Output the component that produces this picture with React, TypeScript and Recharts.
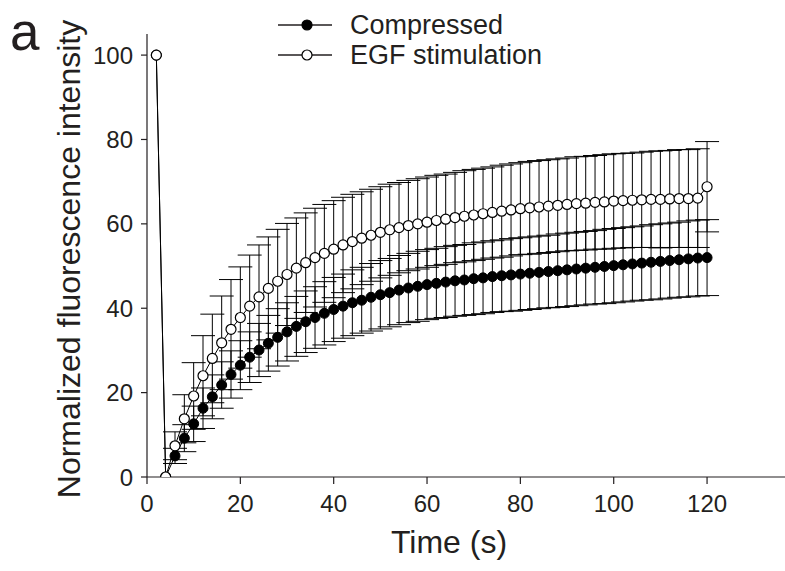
import { LineChart, Line, XAxis, YAxis, ErrorBar, Legend } from "recharts";

const times = [
  2, 4, 6, 8, 10, 12, 14, 16, 18, 20, 22, 24, 26, 28, 30, 32, 34, 36, 38, 40,
  42, 44, 46, 48, 50, 52, 54, 56, 58, 60, 62, 64, 66, 68, 70, 72, 74, 76, 78, 80,
  82, 84, 86, 88, 90, 92, 94, 96, 98, 100, 102, 104, 106, 108, 110, 112, 114, 116, 118, 120,
];

const compressed = [
  100, 0, 5.0, 9.2, 12.6, 16.3, 19.0, 21.8, 24.3, 26.5, 28.4, 30.1, 31.7, 33.1, 34.4, 35.7, 36.8, 37.8, 38.8, 39.7,
  40.5, 41.3, 41.9, 42.6, 43.2, 43.7, 44.3, 44.8, 45.2, 45.6, 45.9, 46.2, 46.5, 46.7, 47.0, 47.2, 47.5, 47.7, 47.9, 48.1,
  48.3, 48.5, 48.7, 48.9, 49.1, 49.3, 49.5, 49.7, 49.9, 50.1, 50.3, 50.5, 50.7, 50.9, 51.1, 51.3, 51.5, 51.7, 51.9, 52.0,
];

const compressedSd = [
  0, 0, 1.8, 3.2, 4.2, 4.8, 5.2, 5.5, 5.6, 5.8, 6.0, 6.3, 6.6, 6.8, 6.9, 7.1, 7.3, 7.3, 7.5, 7.6,
  7.6, 7.8, 7.8, 8.0, 8.1, 8.1, 8.2, 8.2, 8.3, 8.3, 8.3, 8.4, 8.4, 8.4, 8.5, 8.5, 8.5, 8.5, 8.6, 8.6,
  8.6, 8.6, 8.6, 8.7, 8.7, 8.7, 8.7, 8.7, 8.8, 8.8, 8.8, 8.8, 8.8, 8.9, 8.9, 8.9, 8.9, 9.0, 9.0, 9.0,
];

const egf = [
  100, 0, 7.4, 13.8, 19.2, 24.0, 28.1, 31.8, 35.0, 37.8, 40.5, 42.7, 44.7, 46.4, 48.0, 49.5, 50.8, 52.0, 53.0, 54.0,
  55.0, 55.8, 56.6, 57.3, 58.0, 58.6, 59.1, 59.6, 60.0, 60.4, 60.8, 61.1, 61.5, 61.8, 62.1, 62.4, 62.7, 63.0, 63.3, 63.6,
  63.8, 64.0, 64.2, 64.4, 64.6, 64.8, 64.9, 65.1, 65.2, 65.4, 65.5, 65.6, 65.7, 65.8, 65.8, 65.9, 66.0, 66.0, 66.1, 68.8,
];

const egfSd = [
  0, 0, 3.3, 5.7, 7.9, 9.5, 10.5, 11.1, 11.8, 12.0, 12.1, 12.3, 12.2, 12.3, 12.1, 11.9, 11.8, 11.7, 11.6, 11.5,
  11.3, 11.2, 11.0, 10.9, 10.8, 10.8, 10.7, 10.7, 10.7, 10.7, 10.7, 10.7, 10.7, 10.8, 10.8, 10.8, 10.8, 10.9, 10.9, 10.9,
  11.0, 11.0, 11.0, 11.0, 11.0, 11.1, 11.1, 11.1, 11.2, 11.2, 11.2, 11.2, 11.3, 11.4, 11.5, 11.5, 11.6, 11.6, 11.7, 10.7,
];

const xTicks = [0, 20, 40, 60, 80, 100, 120];
const yTicks = [0, 20, 40, 60, 80, 100];

const seriesNames = ["Compressed", "EGF stimulation"];

const data = times.map((t, i) => ({
  t,
  compressed: compressed[i],
  compressedSd: compressedSd[i],
  egf: egf[i],
  egfSd: egfSd[i],
}));

const FONT = "'Liberation Sans', Arial, Helvetica, sans-serif";
const INK = "#231f20";

function LegendBox() {
  return (
    <svg width={320} height={75} style={{ display: "block" }}>
      {seriesNames.map((name, i) => {
        const cy = 25 + i * 30;
        return (
          <g key={name}>
            <line x1={8} x2={62} y1={cy} y2={cy} stroke={INK} strokeWidth={1.3} />
            <circle cx={37} cy={cy} r={5} fill={i === 0 ? "#000" : "#fff"} stroke="#000" strokeWidth={1.2} />
            <text x={80} y={cy} dominantBaseline="central" fontSize={27} fontFamily={FONT} fill={INK}>
              {name}
            </text>
          </g>
        );
      })}
    </svg>
  );
}

export default function App() {
  return (
    <div style={{ position: "absolute", left: 0, top: 0, width: 785, height: 571, background: "#fff" }}>
      <LineChart width={785} height={571} data={data} margin={{ top: 34, right: 0, left: 0, bottom: 0 }}>
        <XAxis
          dataKey="t"
          type="number"
          domain={[0, 136.7]}
          ticks={xTicks}
          allowDataOverflow
          height={94}
          tickSize={7}
          tickMargin={11}
          stroke={INK}
          strokeWidth={1.2}
          tick={{ fill: INK, fontSize: 24, fontFamily: FONT }}
          label={{
            content: () => (
              <text x={449} y={553} textAnchor="middle" fontSize={32} fontFamily={FONT} fill={INK}>
                Time (s)
              </text>
            ),
          }}
        />
        <YAxis
          type="number"
          domain={[0, 105]}
          ticks={yTicks}
          allowDataOverflow
          width={147}
          tickSize={6}
          tickMargin={8}
          stroke={INK}
          strokeWidth={1.2}
          tick={{ fill: INK, fontSize: 24, fontFamily: FONT }}
          label={{
            content: () => (
              <text
                x={80}
                y={259}
                transform="rotate(-90 80 259)"
                textAnchor="middle"
                fontSize={32}
                fontFamily={FONT}
                fill={INK}
              >
                Normalized fluorescence intensity
              </text>
            ),
          }}
        />
        <Legend
          layout="vertical"
          align="center"
          verticalAlign="middle"
          wrapperStyle={{ top: 0, left: 270, width: 320 }}
          content={() => <LegendBox />}
        />
        <Line
          dataKey="compressed"
          name="Compressed"
          stroke="#000"
          strokeWidth={1}
          isAnimationActive={false}
          dot={{ r: 5, fill: "#000", stroke: "#000", strokeWidth: 1 }}
          activeDot={false}
        >
          <ErrorBar dataKey="compressedSd" width={12} stroke="#000" strokeWidth={1} direction="y" />
        </Line>
        <Line
          dataKey="egf"
          name="EGF stimulation"
          stroke="#000"
          strokeWidth={1}
          isAnimationActive={false}
          dot={{ r: 5, fill: "#fff", stroke: "#000", strokeWidth: 1.2 }}
          activeDot={false}
        >
          <ErrorBar dataKey="egfSd" width={12} stroke="#000" strokeWidth={1} direction="y" />
        </Line>
      </LineChart>
      <svg width={52} height={64} style={{ position: "absolute", left: 0, top: 0 }}>
        <text x={10} y={50} fontSize={53} fontFamily={FONT} fill={INK}>
          a
        </text>
      </svg>
    </div>
  );
}
